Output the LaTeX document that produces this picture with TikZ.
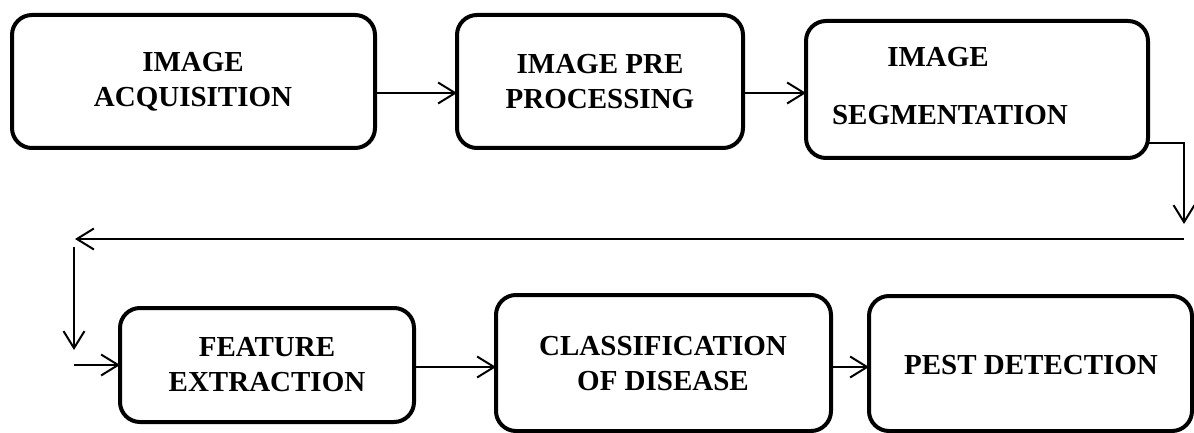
\documentclass[tikz,border=0pt]{standalone}
\usepackage{fontspec}
\setmainfont{Liberation Serif}
\usetikzlibrary{arrows.meta}
\begin{document}
\begin{tikzpicture}[x=1pt,y=-1pt,
  stagebox/.style={draw=black,line width=4pt,rounded corners=20pt,fill=white},
  lbl/.style={font=\fontsize{29}{35}\selectfont\bfseries,align=center,inner sep=0pt},
  conn/.style={line width=2pt,-{Straight Barb[length=17pt,width=21pt,line width=2pt]}},
  plain/.style={line width=2pt}]
\useasboundingbox (0,0) rectangle (1194,433);
% boxes
\draw[stagebox] (12,15) rectangle (375,148);
\node[lbl] (acq) at (193,82) {IMAGE\\ACQUISITION};
\coordinate (b1e) at (375,93);
\draw[stagebox] (457,15) rectangle (743,148);
\node[lbl] (pre) at (600,82) {IMAGE PRE\\PROCESSING};
\coordinate (b2w) at (457,93);
\coordinate (b2e) at (743,93);
\draw[stagebox] (806,21) rectangle (1148,158);
\node[lbl] (seg1) at (938,57) {IMAGE};
\node[lbl] (seg2) at (950,115) {SEGMENTATION};
\coordinate (b3w) at (806,93);
\coordinate (b3e) at (1148,143);
\draw[stagebox] (120,308) rectangle (414,422);
\node[lbl] (feat) at (267,365) {FEATURE\\EXTRACTION};
\coordinate (b4w) at (120,365);
\coordinate (b4e) at (414,367);
\draw[stagebox] (496,295) rectangle (831,431);
\node[lbl] (cls) at (663,364) {CLASSIFICATION\\OF DISEASE};
\coordinate (b5w) at (496,367);
\coordinate (b5e) at (831,367);
\draw[stagebox] (869,296) rectangle (1192,431);
\node[lbl] (pest) at (1031,365) {PEST DETECTION};
\coordinate (b6w) at (869,367);
% connectors
\draw[conn] (b1e) -- (b2w);
\draw[conn] (b2e) -- (b3w);
\coordinate (c1) at (1184,143);
\coordinate (c2) at (1184,224);
\draw[conn] (b3e) -- (c1) -- (c2);
\coordinate (h1) at (1184,239);
\coordinate (h2) at (75,239);
\draw[conn] (h1) -- (h2);
\coordinate (v1) at (74,247);
\coordinate (v2) at (74,350);
\draw[conn] (v1) -- (v2);
\coordinate (f1) at (74,365);
\draw[conn] (f1) -- (b4w);
\draw[conn] (b4e) -- (b5w);
\draw[conn] (b5e) -- (b6w);
\end{tikzpicture}
\end{document}
